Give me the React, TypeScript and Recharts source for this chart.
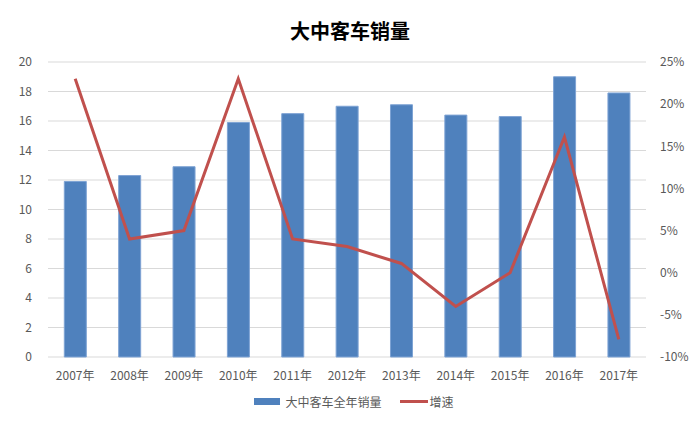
import React from 'react';
import { ComposedChart, Bar, Line, XAxis, YAxis, CartesianGrid, Legend } from 'recharts';

// 年份与销量（万辆）、增速（%）
const years = ['2007年', '2008年', '2009年', '2010年', '2011年', '2012年', '2013年', '2014年', '2015年', '2016年', '2017年'];
const sales = [11.9, 12.3, 12.9, 15.9, 16.5, 17.0, 17.1, 16.4, 16.3, 19.0, 17.9];
const growth = [23.0, 4.0, 5.0, 23.0, 4.0, 3.1, 1.1, -4.0, 0.0, 16.1, -7.9];

const leftTicks = [0, 2, 4, 6, 8, 10, 12, 14, 16, 18, 20];
const rightTicks = [-10, -5, 0, 5, 10, 15, 20, 25];

const data = years.map((year, i) => ({ year, sales: sales[i], growth: growth[i] }));

const FONT = '"Noto Sans CJK SC", "Noto Sans", sans-serif';
const tickStyle = { fill: '#595959', fontSize: 12, fontFamily: FONT };

function ChartLegend() {
  return (
    <div
      style={{
        display: 'flex', justifyContent: 'center', alignItems: 'center', height: 20,
        fontFamily: FONT, fontSize: 12, color: '#595959', paddingLeft: 8,
      }}
    >
      <span style={{ display: 'inline-block', width: 26, height: 7, background: '#4f81bd', marginRight: 5 }} />
      <span style={{ marginRight: 18 }}>大中客车全年销量</span>
      <span style={{ display: 'inline-block', width: 28, height: 3, background: '#c0504d', marginRight: 2 }} />
      <span>增速</span>
    </div>
  );
}

export default function App() {
  return (
    <div style={{ position: 'absolute', left: 0, top: 0, width: 700, height: 425, background: '#fff' }}>
      <div
        style={{
          position: 'absolute', top: 16, left: 0, width: 700, textAlign: 'center',
          fontFamily: FONT, fontWeight: 'bold', fontSize: 20, color: '#000',
        }}
      >
        大中客车销量
      </div>
      <ComposedChart
        width={700}
        height={425}
        data={data}
        margin={{ top: 62, right: 0, left: 0, bottom: 22 }}
        barCategoryGap="30%"
      >
        <CartesianGrid vertical={false} stroke="#d9d9d9" yAxisId="left" />
        <XAxis
          dataKey="year"
          tickLine={false}
          axisLine={false}
          tick={tickStyle}
          tickMargin={8}
          height={26}
        />
        <YAxis
          yAxisId="left"
          domain={[0, 20]}
          ticks={leftTicks}
          tickLine={false}
          axisLine={false}
          tick={tickStyle}
          width={48}
          tickMargin={10}
        />
        <YAxis
          yAxisId="right"
          orientation="right"
          domain={[-10, 25]}
          ticks={rightTicks}
          tickFormatter={(v) => `${v}%`}
          tickLine={false}
          axisLine={false}
          tick={tickStyle}
          width={54}
          tickMargin={8}
        />
        <Legend
          verticalAlign="bottom"
          align="center"
          height={20}
          wrapperStyle={{ bottom: 14 }}
          content={() => <ChartLegend />}
        />
        <Bar
          yAxisId="left"
          dataKey="sales"
          name="大中客车全年销量"
          fill="#4f81bd"
          stroke="#7ea3d4"
          strokeWidth={1}
          isAnimationActive={false}
        />
        <Line
          yAxisId="right"
          dataKey="growth"
          name="增速"
          type="linear"
          stroke="#c0504d"
          strokeWidth={3}
          dot={false}
          isAnimationActive={false}
        />
      </ComposedChart>
    </div>
  );
}
